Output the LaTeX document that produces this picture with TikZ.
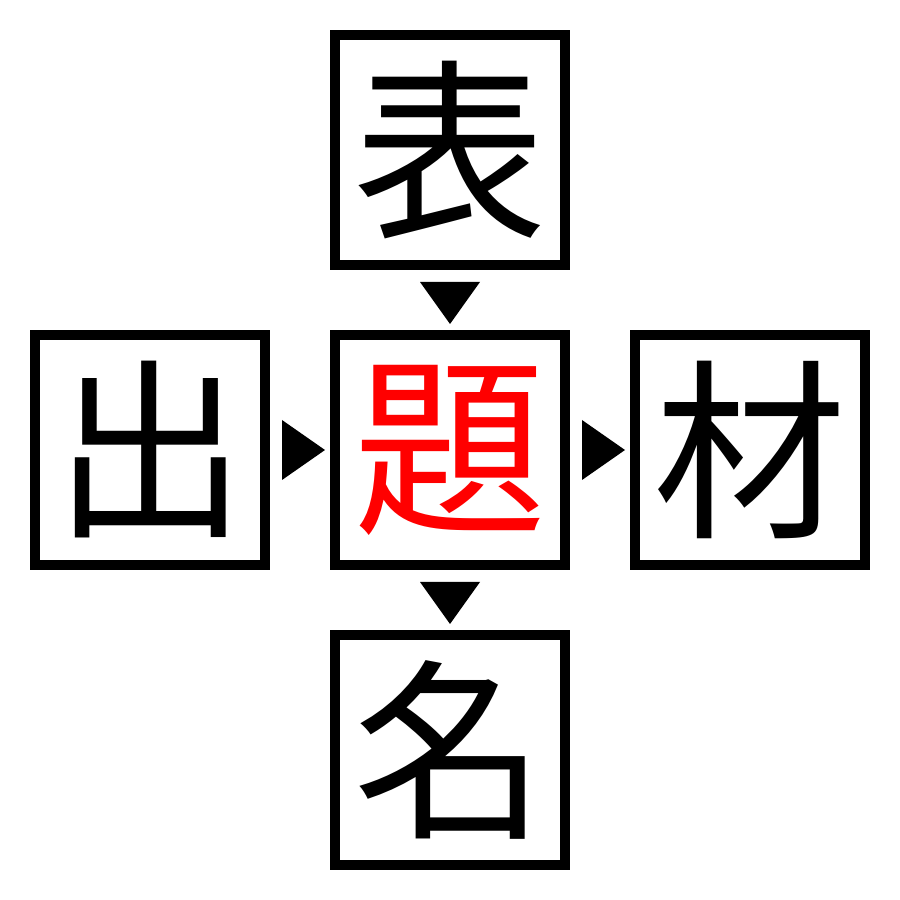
\documentclass[tikz,border=0pt]{standalone}
\usepackage{fontspec}
\newfontfamily\jpfont{Noto Sans CJK JP}
\usetikzlibrary{positioning,calc}
\tikzset{
	kanji/.style={
		rectangle,
		line width=1mm,
		draw=black,
		fill=white,
		minimum size=2.3cm,
		inner sep=0pt,
		font=\jpfont\fontsize{55}{55}\selectfont,
		text centered
	},
	answer/.style={
		kanji,
		text=red
	},
	marker/.style={
		fill=black
	},
}
\begin{document}
\begin{tikzpicture}[node distance=0.6cm]
	\useasboundingbox (0,0) rectangle (9,9);
	\node [answer] (mid) at (4.5,4.5) {題};
	\node [kanji] (top) [above=of mid] {表};
	\node [kanji] (bot) [below=of mid] {名};
	\node [kanji] (lft) [left=of mid] {出};
	\node [kanji] (rgt) [right=of mid] {材};

	% markers between the boxes
	\fill [marker] ($(top.south)+(-0.3,-0.12)$) -- ($(top.south)+(0.3,-0.12)$) -- ($(mid.north)+(0,0.06)$) -- cycle;
	\fill [marker] ($(mid.south)+(-0.3,-0.12)$) -- ($(mid.south)+(0.3,-0.12)$) -- ($(bot.north)+(0,0.06)$) -- cycle;
	\fill [marker] ($(lft.east)+(0.12,0.3)$) -- ($(lft.east)+(0.12,-0.3)$) -- ($(mid.west)+(-0.05,0)$) -- cycle;
	\fill [marker] ($(mid.east)+(0.12,0.3)$) -- ($(mid.east)+(0.12,-0.3)$) -- ($(rgt.west)+(-0.05,0)$) -- cycle;
\end{tikzpicture}
\end{document}
